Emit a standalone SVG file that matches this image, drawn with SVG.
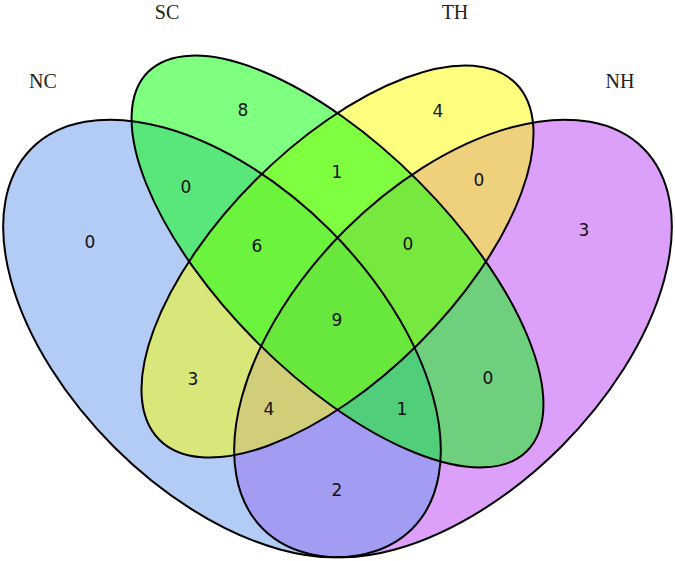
<svg xmlns="http://www.w3.org/2000/svg" xmlns:xlink="http://www.w3.org/1999/xlink" width="675" height="561" viewBox="0 0 675 561">
  <style>
    .fill { stroke: none; fill-opacity: 0.5; }
    .outline { fill: none; stroke: #000; stroke-width: 2; }
    .setname { font-family: "Liberation Serif", "Times New Roman", serif; font-size: 20px; fill: #222; text-anchor: middle; }
    .count { font-family: "DejaVu Sans", "Liberation Sans", sans-serif; font-size: 17px; fill: #111; text-anchor: middle; }
  </style>
  <defs>
    <ellipse id="shNH" cx="0" cy="0" rx="269" ry="153" transform="translate(453 338.5) rotate(-45)"/>
    <ellipse id="shNC" cx="0" cy="0" rx="269" ry="153" transform="translate(222 338.5) rotate(45)"/>
    <ellipse id="shTH" cx="0" cy="0" rx="252" ry="115.5" transform="translate(337.5 261.5) rotate(-45)"/>
    <ellipse id="shSC" cx="0" cy="0" rx="268" ry="114" transform="translate(337.5 261.5) rotate(45)"/>
  </defs>
  <rect width="675" height="561" fill="#fff"/>
  <g id="NH">
    <use xlink:href="#shNH" href="#shNH" class="fill" fill="#bb41f5"/>
    <text class="setname" x="620" y="88">NH</text>
  </g>
  <g id="NC">
    <use xlink:href="#shNC" href="#shNC" class="fill" fill="#6799eb"/>
    <text class="setname" x="43" y="88">NC</text>
  </g>
  <g id="TH">
    <use xlink:href="#shTH" href="#shTH" class="fill" fill="#ffff00"/>
    <text class="setname" x="455" y="19">TH</text>
  </g>
  <g id="SC">
    <use xlink:href="#shSC" href="#shSC" class="fill" fill="#00ff00"/>
    <text class="setname" x="167" y="19">SC</text>
  </g>
  <g id="outlines">
    <use xlink:href="#shNH" href="#shNH" class="outline"/>
    <use xlink:href="#shNC" href="#shNC" class="outline"/>
    <use xlink:href="#shTH" href="#shTH" class="outline"/>
    <use xlink:href="#shSC" href="#shSC" class="outline"/>
  </g>
  <g id="counts">
    <text class="count" x="90" y="248">0</text>
    <text class="count" x="243" y="116">8</text>
    <text class="count" x="438" y="117">4</text>
    <text class="count" x="584" y="236">3</text>
    <text class="count" x="186" y="193">0</text>
    <text class="count" x="337" y="178">1</text>
    <text class="count" x="479" y="186">0</text>
    <text class="count" x="257" y="252">6</text>
    <text class="count" x="408" y="250">0</text>
    <text class="count" x="337" y="326">9</text>
    <text class="count" x="193" y="385">3</text>
    <text class="count" x="269" y="415">4</text>
    <text class="count" x="402" y="415">1</text>
    <text class="count" x="488" y="384">0</text>
    <text class="count" x="337" y="496">2</text>
  </g>
</svg>
